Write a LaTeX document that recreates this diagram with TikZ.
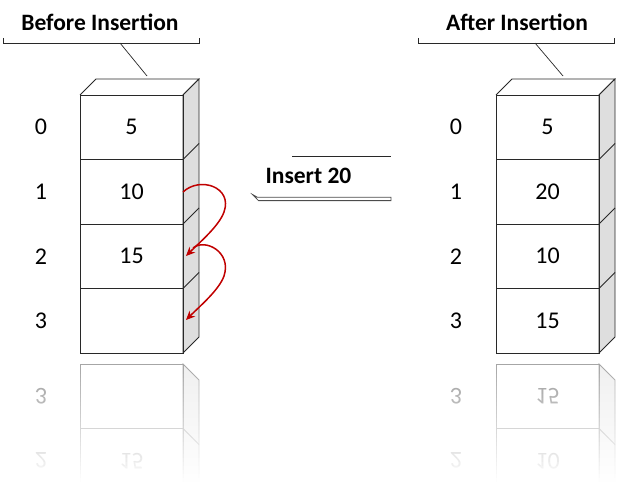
\documentclass[tikz,border=0pt]{standalone}
\usepackage{fontspec}
\setmainfont{Carlito}
\usetikzlibrary{arrows.meta}
\newcommand{\myfs}{\fontsize{24}{28}\selectfont}
\newcommand{\mytfs}{\fontsize{23.5}{28}\selectfont}
\definecolor{arrred}{RGB}{192,0,0}
\definecolor{sidegray}{RGB}{222,222,222}
\definecolor{boxline}{RGB}{40,40,40}
\tikzset{
  cell/.style={draw=boxline, line width=0.8pt, minimum width=103pt, minimum height=64.5pt, inner sep=0pt, font=\myfs},
  rcell/.style={draw=gray!70, line width=0.8pt, minimum width=103pt, minimum height=64.5pt, inner sep=0pt, font=\myfs, text=gray!80},
  idx/.style={font=\myfs, inner sep=0pt},
  ridx/.style={font=\myfs, inner sep=0pt, text=gray!80},
  title/.style={font=\mytfs\bfseries, inner sep=0pt},
  face/.style={draw=boxline, line width=0.8pt},
  rface/.style={draw=gray!70, line width=0.8pt, fill=gray!12},
  thin/.style={draw=boxline, line width=0.7pt},
  redarrow/.style={draw=arrred, line width=1.5pt, -{Stealth[length=9pt,width=8pt]}}
}
\begin{document}
\begin{tikzpicture}[x=1pt,y=-1pt]
\useasboundingbox (0,0) rectangle (617,492);
\clip (0,0) rectangle (617,492);

% ---------- titles and brackets ----------
\node[title] (tb) at (100,22) {Before Insertion};
\node[title] (ta) at (517,22) {After Insertion};
\coordinate (bl) at (120,43);
\coordinate (br) at (535,43);
\draw[thin] (3,38) -- (3,43) -- (199,43) -- (199,38);
\draw[thin] (418,38) -- (418,43) -- (614,43) -- (614,38);

% ---------- left column ----------
\fill[white] (80,95) -- (96,79) -- (199,79) -- (183,95) -- cycle;
\draw[face] (80,95) -- (96,79) -- (199,79) -- (183,95);
\filldraw[face, fill=sidegray] (183,95) -- (199,79) -- (199,337) -- (183,353) -- cycle;
\draw[face] (183,159.5) -- (199,143.5);
\draw[face] (183,224) -- (199,208);
\draw[face] (183,288.5) -- (199,272.5);
\node[cell] (L0) at (131.5,127.25) {5};
\node[cell] (L1) at (131.5,191.75) {10};
\node[cell] (L2) at (131.5,256.25) {15};
\node[cell] (L3) at (131.5,320.75) {};
\coordinate (ltop) at (147,76);
\draw[thin] (bl) -- (ltop);

\node[idx] (li0) at (41,127.25) {0};
\node[idx] (li1) at (41,191.75) {1};
\node[idx] (li2) at (41,256.25) {2};
\node[idx] (li3) at (41,320.75) {3};

% ---------- right column ----------
\fill[white] (496,95) -- (512,79) -- (615,79) -- (599,95) -- cycle;
\draw[face] (496,95) -- (512,79) -- (615,79) -- (599,95);
\filldraw[face, fill=sidegray] (599,95) -- (615,79) -- (615,337) -- (599,353) -- cycle;
\draw[face] (599,159.5) -- (615,143.5);
\draw[face] (599,224) -- (615,208);
\draw[face] (599,288.5) -- (615,272.5);
\node[cell] (R0) at (547.5,127.25) {5};
\node[cell] (R1) at (547.5,191.75) {20};
\node[cell] (R2) at (547.5,256.25) {10};
\node[cell] (R3) at (547.5,320.75) {15};
\coordinate (rtop) at (563,76);
\draw[thin] (br) -- (rtop);

\node[idx] (ri0) at (456,127.25) {0};
\node[idx] (ri1) at (456,191.75) {1};
\node[idx] (ri2) at (456,256.25) {2};
\node[idx] (ri3) at (456,320.75) {3};

% ---------- insert label ----------
\draw[thin] (292,156) -- (391,156);
\node[title] (ins) at (308.5,176) {Insert 20};
\filldraw[draw=gray!60!black, fill=white, line width=0.8pt]
  (252.5,194.5) -- (257.5,197.3) -- (391,197.3) -- (391,200.6) -- (258.5,200.6) -- cycle;

% ---------- red arrows ----------
\coordinate (a1s) at (183,192);
\coordinate (a1e) at (186,256);
\coordinate (a2s) at (193,248);
\coordinate (a2e) at (186,320);
\draw[redarrow] (a1s) .. controls (200,176) and (233,187) .. (224,212)
   .. controls (219,226) and (200,242) .. (a1e);
\draw[redarrow] (a2s) .. controls (205,238) and (232,252) .. (224,276)
   .. controls (219,290) and (200,306) .. (a2e);

% ---------- reflections ----------
\filldraw[rface] (183,364) -- (199,380) -- (199,500) -- (183,500) -- cycle;
\draw[rface] (183,428.5) -- (199,444.5);
\node[rcell] (LR3) at (131.5,396.25) {};
\node[rcell] (LR2) at (131.5,460.75) {\scalebox{1}[-1]{15}};
\node[ridx] (lri3) at (41,396.25) {\scalebox{1}[-1]{3}};
\node[ridx] (lri2) at (41,460.75) {\scalebox{1}[-1]{2}};

\filldraw[rface] (599,364) -- (615,380) -- (615,500) -- (599,500) -- cycle;
\draw[rface] (599,428.5) -- (615,444.5);
\node[rcell] (RR3) at (547.5,396.25) {\scalebox{1}[-1]{15}};
\node[rcell] (RR2) at (547.5,460.75) {\scalebox{1}[-1]{10}};
\node[ridx] (rri3) at (456,396.25) {\scalebox{1}[-1]{3}};
\node[ridx] (rri2) at (456,460.75) {\scalebox{1}[-1]{2}};

\foreach \i in {0,...,32} {
  \pgfmathsetmacro{\op}{min(1,(\i*4)/118)}
  \fill[white, opacity=\op] (0,{362+4*\i}) rectangle (617,{366+4*\i});
}
\end{tikzpicture}
\end{document}
